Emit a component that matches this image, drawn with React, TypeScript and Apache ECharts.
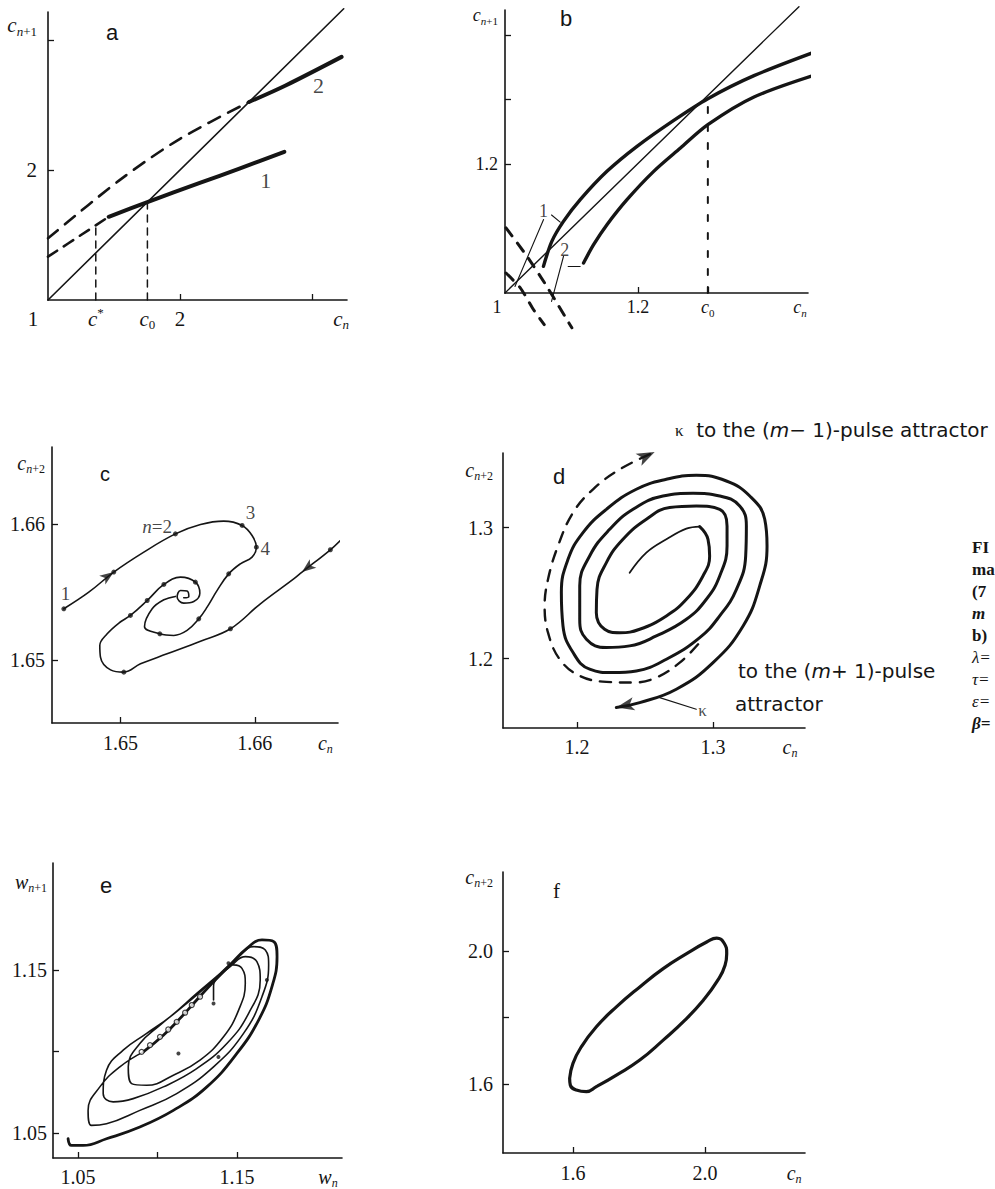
import React, { useEffect, useRef } from "react";
import * as echarts from "echarts";

const INK = "#151515";
const SERIF = "'Liberation Serif', 'DejaVu Serif', serif";
const SANS = "'Liberation Sans', Arial, sans-serif";
const WIDE = "'DejaVu Sans', 'Liberation Sans', sans-serif";

// ---------------- Panel a ----------------
const aDiagonal = [[1, 1], [3.24, 3.24]];
const aCurve1 = [[1.46, 1.64], [1.753, 1.753], [2.15, 1.9], [2.45, 2.01], [2.79, 2.14]];
const aCurve2 = [[2.523, 2.523], [2.8, 2.65], [3.224, 2.87]];
const aDashLower = [[1.0, 1.333], [1.25, 1.5], [1.46, 1.64]];
const aDashUpper = [[1.0, 1.474], [1.54, 1.92], [2.0, 2.24], [2.523, 2.523]];
const aCStarLine = [[1.362, 1], [1.362, 1.576]];
const aC0Line = [[1.753, 1], [1.753, 1.753]];
const aCurveLabels = [[2.65, 1.92, "1"], [3.05, 2.65, "2"]];
const aXTicks = [2, 3];
const aXLabelValues = [1, 1.362, 1.753, 2, 3.22];
const aXLabelTexts = ["{pl|1}", "{v|c}{sup|*}", "{v|c}{su|0}", "{n|2}", "{v|c}{s|n}"];
const aYTicks = [2, 3];
const aYLabelValues = [2, 3.115];
const aYLabelTexts = ["{n|2}", "{v|c}{s|n}{su|+1}"];

// ---------------- Panel b ----------------
const bDiagonal = [[1, 1], [1.442, 1.444]];
const bUpper = [[1.0578, 1.0413], [1.0704, 1.0801], [1.0879, 1.1111], [1.1131, 1.1447], [1.1533, 1.1886], [1.1985, 1.2274], [1.2538, 1.2677], [1.305, 1.3013], [1.3744, 1.337], [1.4724, 1.3762]];
const bLower = [[1.1181, 1.0465], [1.1332, 1.0749], [1.1533, 1.1059], [1.1834, 1.1447], [1.2236, 1.1886], [1.2638, 1.2248], [1.305, 1.261], [1.3744, 1.3039], [1.4724, 1.3401]];
const bDash1 = [[1.0015, 1.101], [1.033, 1.057], [1.063, 1.01], [1.1005, 0.946]];
const bDash2 = [[1.0015, 1.031], [1.023, 1.008], [1.043, 0.974], [1.059, 0.951]];
const bC0Line = [[1.305, 1.0], [1.305, 1.301]];
const bLeaders = [
  [[1.07, 1.121], [1.083, 1.11]],
  [[1.058, 1.114], [1.015, 1.01]],
  [[1.088, 1.057], [1.07, 0.987]],
  [[1.095, 1.041], [1.113, 1.041]],
];
const bCurveLabels = [[1.058, 1.127, "1"], [1.09, 1.067, "2"]];
const bXTicks = [1.2, 1.305];
const bXLabelValues = [1, 1.2, 1.305, 1.4436];
const bXLabelTexts = ["{pl|1}", "{n|1.2}", "{v|c}{su|0}", "{v|c}{s|n}"];
const bYTicks = [1.2, 1.3, 1.4];
const bYLabelValues = [1.2, 1.431];
const bYLabelTexts = ["{n|1.2}", "{v|c}{s|n}{su|+1}"];

// ---------------- Panel c ----------------
const cPathA = [[1.64578, 1.6538], [1.64764, 1.65502], [1.6495, 1.6565], [1.65174, 1.65797], [1.65409, 1.65931], [1.65596, 1.66], [1.65769, 1.66025], [1.65906, 1.65993], [1.6598, 1.65919], [1.66012, 1.65833], [1.6598, 1.6576], [1.65893, 1.65711], [1.65806, 1.65637], [1.6572, 1.65515], [1.65645, 1.65392], [1.65583, 1.65306], [1.65496, 1.65221], [1.65397, 1.65184], [1.65293, 1.65196], [1.65179, 1.6525], [1.65236, 1.6538], [1.65323, 1.65446], [1.65409, 1.65471]];
const cPathB = [[1.6665, 1.65895], [1.66563, 1.65814], [1.66352, 1.6565], [1.6629, 1.656], [1.66042, 1.65417], [1.65819, 1.65233], [1.65596, 1.65142], [1.65347, 1.65049], [1.65149, 1.64975], [1.65025, 1.64914], [1.64926, 1.64931], [1.64851, 1.65025], [1.64846, 1.6511], [1.64901, 1.65196], [1.64988, 1.65275], [1.65074, 1.65331], [1.65199, 1.65441], [1.65323, 1.65559], [1.65447, 1.65613], [1.65558, 1.65576], [1.65591, 1.65495], [1.65546, 1.65434], [1.65471, 1.65422], [1.65422, 1.65466], [1.65447, 1.65515], [1.65496, 1.6551], [1.65509, 1.65471], [1.65471, 1.65461]];
const cDots = [[1.64578, 1.6538], [1.6495, 1.6565], [1.65409, 1.65931], [1.65906, 1.65993], [1.66012, 1.65833], [1.65806, 1.65637], [1.65583, 1.65306], [1.65293, 1.65196], [1.66563, 1.65814], [1.65819, 1.65233], [1.65025, 1.64914], [1.65074, 1.65331], [1.65199, 1.65441], [1.65323, 1.65559], [1.65558, 1.65576]];
const cArrows = [[1.6495, 1.6565, -55], [1.66352, 1.6565, 128]];
const cPointLabels = [[1.64591, 1.65495, "1"], [1.65273, 1.65985, "{i|n}=2"], [1.65968, 1.66091, "3"], [1.66079, 1.65821, "4"]];
const cXTicks = [1.65, 1.66];
const cXLabelValues = [1.65, 1.66, 1.66526];
const cXLabelTexts = ["{n|1.65}", "{n|1.66}", "{v|c}{s|n}"];
const cYTicks = [1.65, 1.66];
const cYLabelValues = [1.65, 1.66, 1.66449];
const cYLabelTexts = ["{n|1.65}", "{n|1.66}", "{v|c}{s|n}{su|+2}"];

// ---------------- Panel d ----------------
const dSpiralCore = [[1.2387, 1.2656], [1.251, 1.2809], [1.2657, 1.2911], [1.2804, 1.2992], [1.2902, 1.3008]];
const dSpiral = [[1.2902, 1.3008], [1.2963, 1.2911], [1.2975, 1.2784], [1.2926, 1.2631], [1.2804, 1.2453], [1.2657, 1.2326], [1.2461, 1.2224], [1.2314, 1.2198], [1.2203, 1.2224], [1.2142, 1.2351], [1.2147, 1.2529], [1.2216, 1.2733], [1.2338, 1.2911], [1.251, 1.3064], [1.2681, 1.3153], [1.2877, 1.3165], [1.3049, 1.314], [1.3103, 1.3013], [1.3103, 1.286], [1.3049, 1.2631], [1.2951, 1.2453], [1.2804, 1.23], [1.2583, 1.2173], [1.2387, 1.2097], [1.2216, 1.2084], [1.2069, 1.2148], [1.202, 1.23], [1.202, 1.2555], [1.2093, 1.2784], [1.224, 1.2987], [1.2412, 1.314], [1.2632, 1.3242], [1.2853, 1.3262], [1.3049, 1.3242], [1.3196, 1.3165], [1.3245, 1.3013], [1.324, 1.2784], [1.3172, 1.2529], [1.3049, 1.2326], [1.2902, 1.216], [1.2657, 1.1995], [1.2436, 1.1906], [1.2265, 1.1893], [1.2093, 1.1919], [1.1971, 1.2046], [1.1897, 1.2249], [1.1885, 1.2504], [1.1934, 1.2758], [1.2044, 1.2962], [1.2216, 1.314], [1.2436, 1.3293], [1.2657, 1.3369], [1.2877, 1.34], [1.3098, 1.3356], [1.327, 1.3242], [1.338, 1.3064], [1.3397, 1.286], [1.3343, 1.2555], [1.3221, 1.2249], [1.3, 1.1969], [1.273, 1.1766], [1.2461, 1.1664], [1.2289, 1.1626]];
const dDashed = [[1.289, 1.2109], [1.2755, 1.1969], [1.2583, 1.1855], [1.2412, 1.1817], [1.2216, 1.1822], [1.202, 1.1868], [1.1873, 1.1995], [1.1787, 1.2198], [1.1762, 1.2402], [1.1787, 1.2606], [1.186, 1.286], [1.1971, 1.3115], [1.2118, 1.3293], [1.2314, 1.3445], [1.2571, 1.3578]];
const dArrows = [[1.2289, 1.1626, 102], [1.2571, 1.3578, -64]];
const dLeader = [[1.2608, 1.1702], [1.2877, 1.1613]];
const dKappa = [[1.2922, 1.16, "κ"]];
const dXTicks = [1.2, 1.3];
const dXLabelValues = [1.2, 1.3, 1.3566];
const dXLabelTexts = ["{n|1.2}", "{n|1.3}", "{v|c}{s|n}"];
const dYTicks = [1.2, 1.3];
const dYLabelValues = [1.2, 1.3, 1.3443];
const dYLabelTexts = ["{n|1.2}", "{n|1.3}", "{v|c}{s|n}{su|+2}"];

// ---------------- Panel e ----------------
const eOuter = [[1.0437, 1.0465], [1.0458, 1.0424], [1.0532, 1.0424], [1.0679, 1.0465], [1.0889, 1.0537], [1.11, 1.0639], [1.1311, 1.0783], [1.15, 1.0988], [1.1637, 1.1193], [1.1721, 1.1398], [1.1753, 1.1582], [1.1732, 1.1674], [1.1658, 1.1684], [1.1563, 1.1633], [1.1458, 1.1531], [1.1353, 1.1428], [1.1247, 1.1316], [1.1142, 1.1203], [1.1037, 1.11], [1.0911, 1.0998]];
const eInner = [[1.0911, 1.0998], [1.0763, 1.0906], [1.0637, 1.0783], [1.0563, 1.0639], [1.0584, 1.0547], [1.0679, 1.0557], [1.0889, 1.0639], [1.1121, 1.0742], [1.1353, 1.0906], [1.1542, 1.1111], [1.1658, 1.1336], [1.17, 1.1531], [1.1679, 1.1623], [1.1605, 1.1643], [1.1511, 1.1582], [1.1395, 1.148], [1.1247, 1.1357], [1.1079, 1.1213], [1.0932, 1.1111], [1.0784, 1.1008], [1.0679, 1.0885], [1.0658, 1.0742], [1.0721, 1.0691], [1.0847, 1.0711], [1.1037, 1.0783], [1.1247, 1.0895], [1.1437, 1.1049], [1.1574, 1.1234], [1.1647, 1.1439], [1.1626, 1.1551], [1.1553, 1.1582], [1.1458, 1.152], [1.1332, 1.1418], [1.1184, 1.1295], [1.1016, 1.1162], [1.0889, 1.1049], [1.0816, 1.0906], [1.0837, 1.0803], [1.0932, 1.0793], [1.11, 1.0855], [1.1268, 1.0947], [1.1416, 1.109], [1.1511, 1.1254], [1.1553, 1.1418], [1.1532, 1.151], [1.1479, 1.1531], [1.1405, 1.148], [1.1353, 1.1398], [1.1353, 1.1316]];
const eOpenDots = [[1.1268, 1.1336], [1.1216, 1.1285], [1.1174, 1.1238], [1.1121, 1.1182], [1.1068, 1.1135], [1.1016, 1.109], [1.0953, 1.1039], [1.09, 1.0998]];
const eMarks = [[1.1384, 1.0967], [1.1132, 1.0988], [1.1353, 1.1295], [1.1689, 1.1439], [1.1447, 1.1541]];
const eXTicks = [1.05, 1.1, 1.15];
const eXLabelValues = [1.05, 1.15, 1.2074];
const eXLabelTexts = ["{n|1.05}", "{n|1.15}", "{v|w}{s|n}"];
const eYTicks = [1.05, 1.1, 1.15];
const eYLabelValues = [1.05, 1.15, 1.204];
const eYLabelTexts = ["{n|1.05}", "{n|1.15}", "{v|w}{s|n}{su|+1}"];

// ---------------- Panel f ----------------
const fEllipse = [[1.5899, 1.617], [1.6, 1.662], [1.6253, 1.712], [1.6709, 1.772], [1.7316, 1.832], [1.8025, 1.892], [1.8734, 1.947], [1.9443, 1.992], [2.0051, 2.027], [2.0354, 2.039], [2.0577, 2.024], [2.0658, 1.992], [2.0608, 1.957], [2.0354, 1.907], [1.9949, 1.852], [1.9392, 1.792], [1.8734, 1.732], [1.8025, 1.672], [1.7316, 1.627], [1.6709, 1.592], [1.6405, 1.577], [1.6101, 1.582], [1.5919, 1.597], [1.5899, 1.617]];
const fXTicks = [1.6, 2.0];
const fXLabelValues = [1.6, 2.0, 2.27];
const fXLabelTexts = ["{n|1.6}", "{n|2.0}", "{v|c}{s|n}"];
const fYTicks = [1.6, 1.8, 2.0];
const fYLabelValues = [1.6, 2.0, 2.2226];
const fYLabelTexts = ["{n|1.6}", "{n|2.0}", "{v|c}{s|n}{su|+2}"];

// ---------------- Layout ----------------
const GRIDS = [
  { left: 48, top: 12, width: 299, height: 288 },
  { left: 505, top: 10, width: 303, height: 283 },
  { left: 52, top: 447, width: 286, height: 276 },
  { left: 503, top: 453, width: 302, height: 275 },
  { left: 53, top: 863, width: 289, height: 295 },
  { left: 503, top: 872, width: 302, height: 281 },
];

function makeRich(fs: number, plPad: number) {
  const sub = Math.round(fs * 0.62);
  return {
    n: { fontFamily: SERIF, fontSize: fs, lineHeight: fs + 4, color: INK },
    pl: { fontFamily: SERIF, fontSize: fs, lineHeight: fs + 4, color: INK, padding: [0, plPad, 0, 0] },
    v: { fontFamily: SERIF, fontStyle: "italic", fontSize: fs, lineHeight: fs + 4, color: INK },
    s: { fontFamily: SERIF, fontStyle: "italic", fontSize: sub, lineHeight: sub, verticalAlign: "bottom", color: INK },
    su: { fontFamily: SERIF, fontSize: sub, lineHeight: sub, verticalAlign: "bottom", color: INK },
    sup: { fontFamily: SERIF, fontSize: sub, lineHeight: sub, verticalAlign: "top", color: INK },
    i: { fontFamily: SERIF, fontStyle: "italic", fontSize: fs, color: INK },
  };
}

function labeler(values: number[], texts: string[]) {
  return (v: number) => {
    const i = values.findIndex((u) => Math.abs(u - v) < 1e-9);
    return i >= 0 ? texts[i] : "";
  };
}

type AxisSpec = {
  xMin: number; xMax: number; yMin: number; yMax: number;
  xTicks: number[]; yTicks: number[];
  xLV: number[]; xLT: string[]; yLV: number[]; yLT: string[];
  fs: number; xMargin: number; yMargin: number; plPad: number;
};

function axes(idx: number, p: AxisSpec) {
  const rich = makeRich(p.fs, p.plPad);
  const common = (ticks: number[]) => ({
    type: "value",
    gridIndex: idx,
    axisLine: { show: true, onZero: false, lineStyle: { color: INK, width: 1.6 } },
    axisTick: { show: true, inside: true, length: 6, customValues: ticks, lineStyle: { color: INK, width: 1.3 } },
    splitLine: { show: false },
  });
  const x = {
    ...common(p.xTicks),
    position: "bottom",
    min: p.xMin,
    max: p.xMax,
    axisLabel: { show: true, customValues: p.xLV, formatter: labeler(p.xLV, p.xLT), margin: p.xMargin, rich, color: INK, fontFamily: SERIF, fontSize: p.fs },
  };
  const y = {
    ...common(p.yTicks),
    position: "left",
    min: p.yMin,
    max: p.yMax,
    axisLabel: { show: true, customValues: p.yLV, formatter: labeler(p.yLV, p.yLT), margin: p.yMargin, rich, color: INK, fontFamily: SERIF, fontSize: p.fs },
  };
  return { x, y };
}

function line(idx: number, data: number[][], width: number, opts: any = {}) {
  return {
    type: "line",
    xAxisIndex: idx,
    yAxisIndex: idx,
    data,
    symbol: "none",
    showSymbol: false,
    smooth: opts.smooth ?? 0.35,
    clip: false,
    silent: true,
    z: opts.z ?? 3,
    lineStyle: { color: INK, width, type: opts.dash ?? "solid", cap: "round", join: "round" },
  };
}

function labels(idx: number, pts: any[][], fs: number, family = SERIF) {
  return {
    type: "scatter",
    xAxisIndex: idx,
    yAxisIndex: idx,
    symbolSize: 1,
    clip: false,
    silent: true,
    itemStyle: { color: "rgba(0,0,0,0)" },
    label: {
      show: true,
      position: "inside",
      color: INK,
      fontFamily: family,
      fontSize: fs,
      rich: { i: { fontFamily: SERIF, fontStyle: "italic", fontSize: fs, color: INK } },
    },
    data: pts.map((p) => ({ value: [p[0], p[1]], label: { formatter: p[2] } })),
    z: 6,
  };
}

function dots(idx: number, pts: number[][], size: number, open = false) {
  return {
    type: "scatter",
    xAxisIndex: idx,
    yAxisIndex: idx,
    symbol: "circle",
    symbolSize: size,
    clip: false,
    silent: true,
    itemStyle: open ? { color: "#fff", borderColor: INK, borderWidth: 1.2 } : { color: INK },
    data: pts,
    z: 5,
  };
}

function arrows(idx: number, pts: number[][], size: number[]) {
  return {
    type: "scatter",
    xAxisIndex: idx,
    yAxisIndex: idx,
    symbol: "arrow",
    symbolSize: size,
    clip: false,
    silent: true,
    itemStyle: { color: INK },
    data: pts.map((p) => ({ value: [p[0], p[1]], symbolRotate: p[2] })),
    z: 6,
  };
}

function gText(x: number, y: number, text: string, style: any = {}) {
  return {
    type: "text",
    x,
    y,
    silent: true,
    style: { text, fill: INK, fontFamily: SANS, fontSize: 20, verticalAlign: "middle", align: "left", ...style },
  };
}

export default function App() {
  const ref = useRef<HTMLDivElement>(null);
  useEffect(() => {
    if (!ref.current) return;
    const chart = echarts.init(ref.current, null, { renderer: "svg" });

    const specs: AxisSpec[] = [
      { xMin: 1, xMax: 3.265, yMin: 1, yMax: 3.215, xTicks: aXTicks, yTicks: aYTicks, xLV: aXLabelValues, xLT: aXLabelTexts, yLV: aYLabelValues, yLT: aYLabelTexts, fs: 21, xMargin: 6, yMargin: 11, plPad: 30 },
      { xMin: 1, xMax: 1.4556, yMin: 1, yMax: 1.4388, xTicks: bXTicks, yTicks: bYTicks, xLV: bXLabelValues, xLT: bXLabelTexts, yLV: bYLabelValues, yLT: bYLabelTexts, fs: 18, xMargin: 3, yMargin: 7, plPad: 16 },
      { xMin: 1.6449, xMax: 1.6662, yMin: 1.6454, yMax: 1.6657, xTicks: cXTicks, yTicks: cYTicks, xLV: cXLabelValues, xLT: cXLabelTexts, yLV: cYLabelValues, yLT: cYLabelTexts, fs: 20, xMargin: 8, yMargin: 7, plPad: 0 },
      { xMin: 1.1456, xMax: 1.3676, yMin: 1.147, yMax: 1.357, xTicks: dXTicks, yTicks: dYTicks, xLV: dXLabelValues, xLT: dXLabelTexts, yLV: dYLabelValues, yLT: dYLabelTexts, fs: 20, xMargin: 7, yMargin: 10, plPad: 0 },
      { xMin: 1.0342, xMax: 1.2162, yMin: 1.0347, yMax: 1.2156, xTicks: eXTicks, yTicks: eYTicks, xLV: eXLabelValues, xLT: eXLabelTexts, yLV: eYLabelValues, yLT: eYLabelTexts, fs: 20, xMargin: 7, yMargin: 6, plPad: 0 },
      { xMin: 1.388, xMax: 2.303, yMin: 1.3925, yMax: 2.2376, xTicks: fXTicks, yTicks: fYTicks, xLV: fXLabelValues, xLT: fXLabelTexts, yLV: fYLabelValues, yLT: fYLabelTexts, fs: 20, xMargin: 8, yMargin: 10, plPad: 0 },
    ];
    const ax = specs.map((s, i) => axes(i, s));

    const series: any[] = [
      // a
      line(0, aDiagonal, 1.6, { smooth: false }),
      line(0, aCurve1, 4, { smooth: 0.3 }),
      line(0, aCurve2, 4, { smooth: 0.3 }),
      line(0, aDashLower, 2.6, { dash: [11, 8] }),
      line(0, aDashUpper, 2.6, { dash: [13, 9], smooth: 0.3 }),
      line(0, aCStarLine, 1.5, { dash: [7, 6], smooth: false }),
      line(0, aC0Line, 1.5, { dash: [7, 6], smooth: false }),
      labels(0, aCurveLabels, 22),
      // b
      line(1, bDiagonal, 1.4, { smooth: false }),
      line(1, bUpper, 3.4, { smooth: 0.3 }),
      line(1, bLower, 3.4, { smooth: 0.3 }),
      line(1, bDash1, 3, { dash: [10, 9], smooth: 0.2 }),
      line(1, bDash2, 3, { dash: [10, 9], smooth: 0.2 }),
      line(1, bC0Line, 2, { dash: [6, 12], smooth: false }),
      ...bLeaders.map((d) => line(1, d, 1.1, { smooth: false })),
      labels(1, bCurveLabels, 18),
      // c
      line(2, cPathA, 1.6, { smooth: 0.4 }),
      line(2, cPathB, 1.6, { smooth: 0.4 }),
      dots(2, cDots, 5),
      arrows(2, cArrows, [8, 14]),
      labels(2, cPointLabels, 19),
      // d
      line(3, dSpiralCore, 1.8, { smooth: 0.4 }),
      line(3, dSpiral, 3, { smooth: 0.45 }),
      line(3, dDashed, 2.4, { dash: [11, 9], smooth: 0.4 }),
      line(3, dLeader, 1.1, { smooth: false }),
      arrows(3, dArrows, [10, 18]),
      labels(3, dKappa, 17),
      // e
      line(4, eOuter, 2.8, { smooth: 0.45 }),
      line(4, eInner, 1.6, { smooth: 0.45 }),
      dots(4, eOpenDots, 5, true),
      dots(4, eMarks, 4),
      // f
      line(5, fEllipse, 3.2, { smooth: 0.5 }),
    ];

    const caption = [
      ["{b|FI}", 547], ["{b|ma}", 569], ["{b|(7}", 591], ["{bi|m}", 613], ["{b|b)}", 635],
      ["{i|λ=}", 657], ["{i|τ=}", 679], ["{i|ε=}", 701], ["{bi|β=}", 723],
    ];
    const capRich = {
      b: { fontFamily: SERIF, fontWeight: "bold", fontSize: 17, color: INK },
      bi: { fontFamily: SERIF, fontWeight: "bold", fontStyle: "italic", fontSize: 17, color: INK },
      i: { fontFamily: SERIF, fontStyle: "italic", fontSize: 17, color: INK },
    };
    const dRich = {
      k: { fontFamily: SERIF, fontSize: 17, color: INK },
      t: { fontFamily: WIDE, fontSize: 20, color: INK },
      m: { fontFamily: WIDE, fontStyle: "italic", fontSize: 20, color: INK },
    };

    const graphic: any[] = [
      gText(106, 32, "a", { fontSize: 22 }),
      gText(560, 18, "b", { fontSize: 22 }),
      gText(100, 474, "c", { fontSize: 20 }),
      gText(553, 476, "d", { fontSize: 22 }),
      gText(100, 885, "e", { fontSize: 22 }),
      gText(553, 891, "f", { fontSize: 21, fontFamily: SERIF }),
      gText(675, 430, "{k|κ}{t|  to the (}{m|m}{t|− 1)-pulse attractor}", { rich: dRich }),
      gText(738, 671, "{t|to the (}{m|m}{t|+ 1)-pulse}", { rich: dRich }),
      gText(735, 704, "{t|attractor}", { rich: dRich }),
      ...caption.map(([t, y]) => gText(972, y as number, t as string, { rich: capRich })),
    ];

    chart.setOption({
      animation: false,
      backgroundColor: "#ffffff",
      grid: GRIDS.map((g) => ({ ...g, containLabel: false, outerBoundsMode: "none" })),
      xAxis: ax.map((a) => a.x),
      yAxis: ax.map((a) => a.y),
      series,
      graphic,
    });
    return () => chart.dispose();
  }, []);
  return <div ref={ref} style={{ position: "fixed", left: 0, top: 0, width: 995, height: 1189, background: "#fff" }} />;
}
